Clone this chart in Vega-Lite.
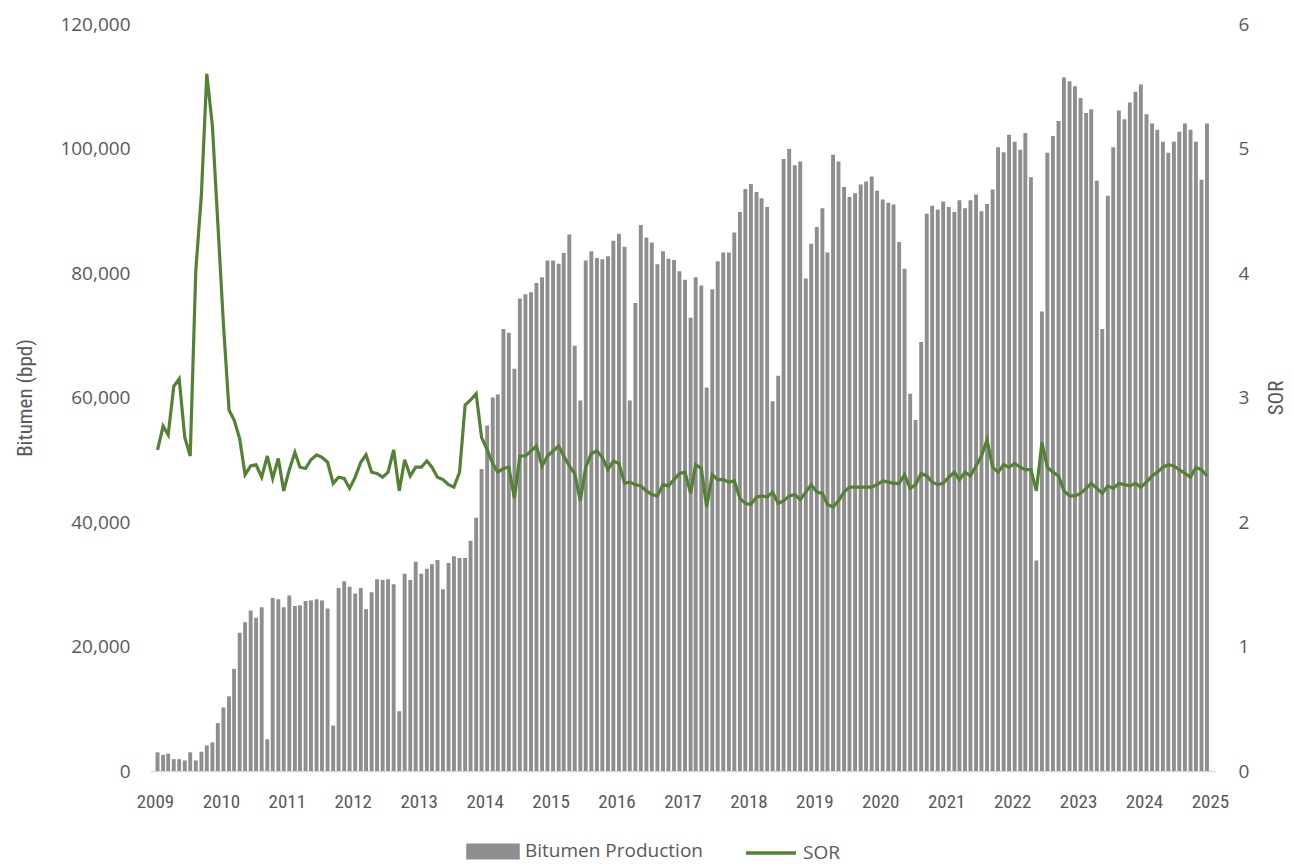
{
"$schema": "https://vega.github.io/schema/vega-lite/v6.json",
"width": 1065, "height": 747,
"autosize": {"type": "none"},
"padding": {"left": 150, "top": 24, "right": 78, "bottom": 94},
"background": "white",
"config": {"view": {"stroke": null}, "font": "Open Sans"},
"data": {"values": [
{"d":"2009/01/15","p":3000,"s":2.58},{"d":"2009/02/15","p":2600,"s":2.77},{"d":"2009/03/15","p":2800,"s":2.70},{"d":"2009/04/15","p":1900,"s":3.09},{"d":"2009/05/15","p":1900,"s":3.15},{"d":"2009/06/15","p":1700,"s":2.68},{"d":"2009/07/15","p":3000,"s":2.53},{"d":"2009/08/15","p":1700,"s":4.02},{"d":"2009/09/15","p":3100,"s":4.63},{"d":"2009/10/15","p":4100,"s":5.60},{"d":"2009/11/15","p":4600,"s":5.18},{"d":"2009/12/15","p":7700,"s":4.40},
{"d":"2010/01/15","p":10200,"s":3.59},{"d":"2010/02/15","p":12000,"s":2.90},{"d":"2010/03/15","p":16400,"s":2.82},{"d":"2010/04/15","p":22200,"s":2.67},{"d":"2010/05/15","p":23900,"s":2.38},{"d":"2010/06/15","p":25800,"s":2.45},{"d":"2010/07/15","p":24600,"s":2.46},{"d":"2010/08/15","p":26300,"s":2.36},{"d":"2010/09/15","p":5100,"s":2.53},{"d":"2010/10/15","p":27800,"s":2.35},{"d":"2010/11/15","p":27600,"s":2.51},{"d":"2010/12/15","p":26300,"s":2.25},
{"d":"2011/01/15","p":28200,"s":2.42},{"d":"2011/02/15","p":26500,"s":2.56},{"d":"2011/03/15","p":26600,"s":2.44},{"d":"2011/04/15","p":27300,"s":2.43},{"d":"2011/05/15","p":27400,"s":2.50},{"d":"2011/06/15","p":27600,"s":2.54},{"d":"2011/07/15","p":27400,"s":2.52},{"d":"2011/08/15","p":26100,"s":2.48},{"d":"2011/09/15","p":7300,"s":2.31},{"d":"2011/10/15","p":29400,"s":2.36},{"d":"2011/11/15","p":30500,"s":2.35},{"d":"2011/12/15","p":29600,"s":2.27},
{"d":"2012/01/15","p":28500,"s":2.36},{"d":"2012/02/15","p":29400,"s":2.48},{"d":"2012/03/15","p":26000,"s":2.54},{"d":"2012/04/15","p":28700,"s":2.40},{"d":"2012/05/15","p":30800,"s":2.39},{"d":"2012/06/15","p":30700,"s":2.36},{"d":"2012/07/15","p":30800,"s":2.40},{"d":"2012/08/15","p":30000,"s":2.58},{"d":"2012/09/15","p":9600,"s":2.25},{"d":"2012/10/15","p":31700,"s":2.50},{"d":"2012/11/15","p":30700,"s":2.37},{"d":"2012/12/15","p":33600,"s":2.44},
{"d":"2013/01/15","p":31700,"s":2.44},{"d":"2013/02/15","p":32500,"s":2.49},{"d":"2013/03/15","p":33200,"s":2.44},{"d":"2013/04/15","p":33900,"s":2.36},{"d":"2013/05/15","p":29200,"s":2.34},{"d":"2013/06/15","p":33400,"s":2.30},{"d":"2013/07/15","p":34500,"s":2.28},{"d":"2013/08/15","p":34200,"s":2.40},{"d":"2013/09/15","p":34200,"s":2.94},{"d":"2013/10/15","p":37000,"s":2.98},{"d":"2013/11/15","p":40700,"s":3.03},{"d":"2013/12/15","p":48500,"s":2.68},
{"d":"2014/01/15","p":55500,"s":2.58},{"d":"2014/02/15","p":60000,"s":2.47},{"d":"2014/03/15","p":60500,"s":2.40},{"d":"2014/04/15","p":71000,"s":2.43},{"d":"2014/05/15","p":70400,"s":2.44},{"d":"2014/06/15","p":64600,"s":2.19},{"d":"2014/07/15","p":75900,"s":2.53},{"d":"2014/08/15","p":76600,"s":2.53},{"d":"2014/09/15","p":76900,"s":2.57},{"d":"2014/10/15","p":78400,"s":2.61},{"d":"2014/11/15","p":79300,"s":2.45},{"d":"2014/12/15","p":82000,"s":2.53},
{"d":"2015/01/15","p":82000,"s":2.57},{"d":"2015/02/15","p":81500,"s":2.61},{"d":"2015/03/15","p":83200,"s":2.53},{"d":"2015/04/15","p":86200,"s":2.45},{"d":"2015/05/15","p":68300,"s":2.39},{"d":"2015/06/15","p":59500,"s":2.17},{"d":"2015/07/15","p":82000,"s":2.44},{"d":"2015/08/15","p":83500,"s":2.55},{"d":"2015/09/15","p":82400,"s":2.57},{"d":"2015/10/15","p":82200,"s":2.52},{"d":"2015/11/15","p":82700,"s":2.42},{"d":"2015/12/15","p":85200,"s":2.49},
{"d":"2016/01/15","p":86300,"s":2.47},{"d":"2016/02/15","p":84200,"s":2.31},{"d":"2016/03/15","p":59500,"s":2.32},{"d":"2016/04/15","p":75200,"s":2.30},{"d":"2016/05/15","p":87700,"s":2.29},{"d":"2016/06/15","p":85700,"s":2.25},{"d":"2016/07/15","p":84900,"s":2.22},{"d":"2016/08/15","p":81400,"s":2.21},{"d":"2016/09/15","p":83500,"s":2.30},{"d":"2016/10/15","p":82300,"s":2.29},{"d":"2016/11/15","p":82100,"s":2.34},{"d":"2016/12/15","p":80300,"s":2.39},
{"d":"2017/01/15","p":78900,"s":2.40},{"d":"2017/02/15","p":72800,"s":2.23},{"d":"2017/03/15","p":79300,"s":2.46},{"d":"2017/04/15","p":78000,"s":2.43},{"d":"2017/05/15","p":61600,"s":2.12},{"d":"2017/06/15","p":77400,"s":2.38},{"d":"2017/07/15","p":81900,"s":2.34},{"d":"2017/08/15","p":83300,"s":2.34},{"d":"2017/09/15","p":83300,"s":2.32},{"d":"2017/10/15","p":86500,"s":2.33},{"d":"2017/11/15","p":89800,"s":2.19},{"d":"2017/12/15","p":93500,"s":2.15},
{"d":"2018/01/15","p":94300,"s":2.14},{"d":"2018/02/15","p":93000,"s":2.20},{"d":"2018/03/15","p":92000,"s":2.21},{"d":"2018/04/15","p":90600,"s":2.20},{"d":"2018/05/15","p":59400,"s":2.24},{"d":"2018/06/15","p":63500,"s":2.15},{"d":"2018/07/15","p":98300,"s":2.17},{"d":"2018/08/15","p":99900,"s":2.21},{"d":"2018/09/15","p":97300,"s":2.22},{"d":"2018/10/15","p":97900,"s":2.18},{"d":"2018/11/15","p":79100,"s":2.24},{"d":"2018/12/15","p":84700,"s":2.30},
{"d":"2019/01/15","p":87400,"s":2.24},{"d":"2019/02/15","p":90400,"s":2.23},{"d":"2019/03/15","p":83300,"s":2.14},{"d":"2019/04/15","p":99000,"s":2.12},{"d":"2019/05/15","p":97900,"s":2.17},{"d":"2019/06/15","p":93800,"s":2.24},{"d":"2019/07/15","p":92200,"s":2.28},{"d":"2019/08/15","p":92800,"s":2.28},{"d":"2019/09/15","p":94200,"s":2.28},{"d":"2019/10/15","p":94700,"s":2.28},{"d":"2019/11/15","p":95500,"s":2.28},{"d":"2019/12/15","p":93200,"s":2.30},
{"d":"2020/01/15","p":91800,"s":2.33},{"d":"2020/02/15","p":91300,"s":2.32},{"d":"2020/03/15","p":91000,"s":2.31},{"d":"2020/04/15","p":85000,"s":2.31},{"d":"2020/05/15","p":80700,"s":2.38},{"d":"2020/06/15","p":60600,"s":2.27},{"d":"2020/07/15","p":56400,"s":2.30},{"d":"2020/08/15","p":68900,"s":2.39},{"d":"2020/09/15","p":89500,"s":2.37},{"d":"2020/10/15","p":90800,"s":2.32},{"d":"2020/11/15","p":90200,"s":2.30},{"d":"2020/12/15","p":91500,"s":2.31},
{"d":"2021/01/15","p":90600,"s":2.36},{"d":"2021/02/15","p":89800,"s":2.40},{"d":"2021/03/15","p":91700,"s":2.34},{"d":"2021/04/15","p":90400,"s":2.40},{"d":"2021/05/15","p":91700,"s":2.37},{"d":"2021/06/15","p":92600,"s":2.45},{"d":"2021/07/15","p":89900,"s":2.53},{"d":"2021/08/15","p":91100,"s":2.66},{"d":"2021/09/15","p":93400,"s":2.44},{"d":"2021/10/15","p":100200,"s":2.40},{"d":"2021/11/15","p":99400,"s":2.46},{"d":"2021/12/15","p":102200,"s":2.44},
{"d":"2022/01/15","p":101100,"s":2.47},{"d":"2022/02/15","p":99800,"s":2.44},{"d":"2022/03/15","p":102500,"s":2.42},{"d":"2022/04/15","p":95400,"s":2.42},{"d":"2022/05/15","p":33800,"s":2.25},{"d":"2022/06/15","p":73800,"s":2.64},{"d":"2022/07/15","p":99300,"s":2.44},{"d":"2022/08/15","p":102000,"s":2.40},{"d":"2022/09/15","p":104400,"s":2.37},{"d":"2022/10/15","p":111400,"s":2.25},{"d":"2022/11/15","p":110800,"s":2.21},{"d":"2022/12/15","p":110000,"s":2.21},
{"d":"2023/01/15","p":108100,"s":2.23},{"d":"2023/02/15","p":105700,"s":2.27},{"d":"2023/03/15","p":106300,"s":2.31},{"d":"2023/04/15","p":94800,"s":2.27},{"d":"2023/05/15","p":71000,"s":2.23},{"d":"2023/06/15","p":92400,"s":2.29},{"d":"2023/07/15","p":100200,"s":2.27},{"d":"2023/08/15","p":106100,"s":2.31},{"d":"2023/09/15","p":104700,"s":2.30},{"d":"2023/10/15","p":107400,"s":2.29},{"d":"2023/11/15","p":109100,"s":2.31},{"d":"2023/12/15","p":110300,"s":2.28},
{"d":"2024/01/15","p":105500,"s":2.32},{"d":"2024/02/15","p":104000,"s":2.37},{"d":"2024/03/15","p":103000,"s":2.40},{"d":"2024/04/15","p":101100,"s":2.44},{"d":"2024/05/15","p":99300,"s":2.46},{"d":"2024/06/15","p":101100,"s":2.45},{"d":"2024/07/15","p":102700,"s":2.42},{"d":"2024/08/15","p":104000,"s":2.39},{"d":"2024/09/15","p":103000,"s":2.36},{"d":"2024/10/15","p":101100,"s":2.44},{"d":"2024/11/15","p":95000,"s":2.42},{"d":"2024/12/15","p":104000,"s":2.37}
]},
"encoding": {
  "x": {"field": "d", "type": "temporal",
    "scale": {"domain": [{"year": 2009, "month": 1, "date": 1}, {"year": 2025, "month": 1, "date": 1}]},
    "axis": {"title": null, "format": "%Y", "tickCount": {"interval": "year", "step": 1}, "grid": false, "ticks": false,
      "domainColor": "#d9d9d9", "domainWidth": 1.5, "labelColor": "#595959", "labelFont": "Liberation Sans Narrow, Roboto Condensed, Lato",
      "labelFontSize": 19, "labelPadding": 21, "labelFlush": false, "labelOverlap": false}}
},
"layer": [
  {"mark": {"type": "bar", "width": 3.9},
   "encoding": {
     "y": {"field": "p", "type": "quantitative", "scale": {"domain": [0, 120000]},
       "axis": {"title": "Bitumen (bpd)", "values": [0, 20000, 40000, 60000, 80000, 100000, 120000], "format": ",.0f", "grid": false, "ticks": false, "domain": false,
         "labelColor": "#595959", "labelFont": "Open Sans", "labelFontSize": 19, "labelPadding": 20,
         "titleColor": "#595959", "titleFont": "Liberation Sans Narrow, Roboto Condensed, Lato", "titleFontSize": 21, "titleFontWeight": "normal", "titlePadding": 24}},
     "color": {"datum": "Bitumen Production", "type": "nominal",
       "scale": {"domain": ["Bitumen Production", "SOR"], "range": ["#8e8e8e", "#548235"]},
       "legend": {"title": null, "orient": "none", "legendX": 316, "legendY": 800, "direction": "horizontal",
         "symbolSize": 2500, "symbolStrokeWidth": 3.5, "labelFont": "Open Sans", "labelFontSize": 19, "labelColor": "#595959",
         "labelOffset": 5, "labelLimit": 400, "columnPadding": 36, "symbolOpacity": 1,
         "encode": {"symbols": {"update": {
           "shape": {"signal": "datum.value === 'SOR' ? 'stroke' : 'M-1,-0.25H1V0.25H-1Z'"},
           "fill": {"signal": "datum.value === 'SOR' ? 'transparent' : '#8e8e8e'"},
           "stroke": {"signal": "datum.value === 'SOR' ? '#548235' : 'transparent'"}}}}}}
   }},
  {"mark": {"type": "line", "strokeWidth": 3.2, "interpolate": "linear"},
   "encoding": {
     "y": {"field": "s", "type": "quantitative", "scale": {"domain": [0, 6]},
       "axis": {"orient": "right", "title": "SOR", "values": [0, 1, 2, 3, 4, 5, 6], "grid": false, "ticks": false, "domain": false,
         "labelColor": "#595959", "labelFont": "Open Sans", "labelFontSize": 19, "labelPadding": 23,
         "titleColor": "#595959", "titleFont": "Liberation Sans Narrow, Roboto Condensed, Lato", "titleFontSize": 21, "titleFontWeight": "normal", "titlePadding": 38, "titleAngle": 270}},
     "color": {"datum": "SOR", "type": "nominal"}
   }}
],
"resolve": {"scale": {"y": "independent"}}
}
